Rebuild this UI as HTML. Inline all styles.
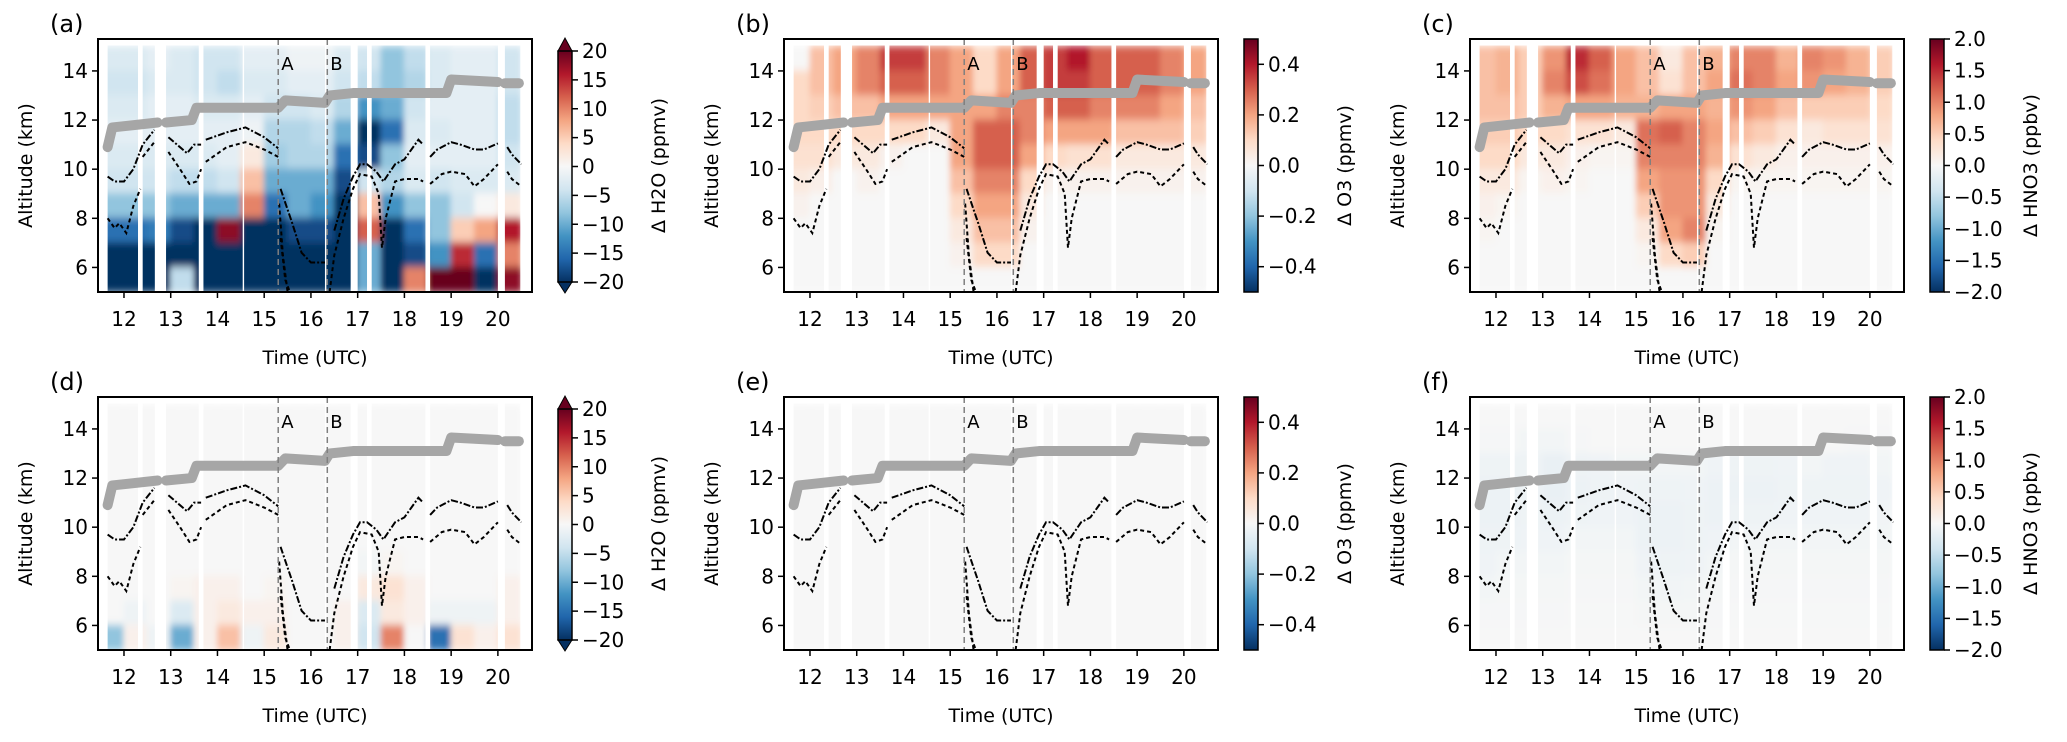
<!DOCTYPE html>
<html><head><meta charset="utf-8"><style>
html,body{margin:0;padding:0;background:#fff;}
svg{display:block;font-family:"DejaVu Sans","Liberation Sans",sans-serif;}
</style></head><body>
<svg id="fig" width="2067" height="742" viewBox="0 0 2067 742" xmlns="http://www.w3.org/2000/svg">
<defs>
<linearGradient id="rdbu" x1="0" y1="1" x2="0" y2="0">
<stop offset="0" stop-color="#053061"/><stop offset="0.1" stop-color="#2166ac"/><stop offset="0.2" stop-color="#4393c3"/><stop offset="0.3" stop-color="#92c5de"/><stop offset="0.4" stop-color="#d1e5f0"/><stop offset="0.5" stop-color="#f7f7f7"/><stop offset="0.6" stop-color="#fddbc7"/><stop offset="0.7" stop-color="#f4a582"/><stop offset="0.8" stop-color="#d6604d"/><stop offset="0.9" stop-color="#b2182b"/><stop offset="1" stop-color="#67001f"/>
</linearGradient>
<filter id="soft" x="0" y="0" width="1" height="1"><feGaussianBlur stdDeviation="3 4" edgeMode="duplicate"/></filter>
</defs>
</svg>
<script>
// ---- data ----
const timeBins = [11.5,12,12.5,13,13.5,14,14.5,15,15.5,16,16.5,17,17.5,18,18.5,19,19.5,20]; // bin starts, 0.5 h wide
const altBins = [14,13,12,11,10,9,8,7,6,5]; // bin bottoms, 1 km tall
const gaps = [[12.3,12.4],[12.66,12.9],[13.6,13.7],[14.54,14.57],[16.3,16.33],[16.85,17.0],[17.2,17.3],[18.45,18.55],[20.0,20.15]];
const dataStart = 11.65, dataEnd = 20.48, dataTop = 15.1;
const h2oA = [
[-3,-3,-2,-3,-4,-4,-2,-2,-1,-1,-3,-4,-8,-5,-3,-2,-2,-4],
[-4,-4,-3,-3,-4,-5,-3,-3,-2,-2,-4,-5,-8,-6,-3,-2,-2,-4],
[-3,-3,-2,-2,-3,-3,-2,-4,-4,-3,-6,-12,-10,-4,-2,-2,-2,-5],
[-2,-2,-2,-2,-2,-2,-1,-6,-6,-5,-10,-20,-15,-3,-3,-2,-2,-5],
[-3,-3,-3,-3,-3,-2,2,-7,-6,-6,-15,-18,-8,-2,-2,-2,-2,-4],
[-4,-4,-4,-5,-5,-4,6,-10,-10,-10,-18,-4,-6,-3,-4,-3,-3,-3],
[-8,-8,-8,-10,-10,-10,10,-15,-10,-12,-20,6,-12,-8,-8,-4,0,2],
[-15,-15,-14,-18,-20,18,-20,-20,-18,-18,-20,12,-20,-15,-8,5,8,16],
[-20,-20,-20,-20,-20,-20,-20,-20,-20,-20,-20,-10,-20,-18,-12,15,-15,10],
[-20,-20,-20,-5,-20,-20,-20,-20,-20,-20,-20,-10,-20,10,20,20,-20,18]];
const o3B = [
[0,0.15,0.2,0.25,0.35,0.35,0.25,0.2,0.1,0.2,0.3,0.35,0.4,0.3,0.3,0.3,0.25,0.2],
[0.1,0.15,0.2,0.25,0.3,0.3,0.25,0.2,0.1,0.2,0.3,0.35,0.35,0.3,0.3,0.3,0.25,0.2],
[0.1,0.12,0.15,0.15,0.2,0.2,0.2,0.2,0.2,0.25,0.25,0.3,0.3,0.25,0.25,0.25,0.2,0.15],
[0.1,0.1,0.1,0.1,0.1,0.1,0.05,0.2,0.3,0.3,0.25,0.2,0.2,0.2,0.15,0.15,0.15,0.12],
[0.08,0.08,0.05,0.05,0.02,0,0,0.2,0.3,0.3,0.2,0.1,0.08,0.08,0.05,0.05,0.05,0.05],
[0.05,0.03,0,0.02,0,0,0,0.15,0.25,0.25,0.1,0.02,0.02,0.02,0.02,0.02,0.02,0.02],
[0.02,0,0,0,0,0,0,0.1,0.2,0.2,0.05,0,0,0,0,0,0,0],
[0,0,0,0,0,0,0,0.05,0.15,0.15,0.02,0,0,0,0,0,0,0],
[0,0,0,0,0,0,0,0.02,0.1,0.1,0,0,0,0,0,0,0,0],
[0,0,0,0,0,0,0,0,0,0,0,0,0,0,0,0,0,0]];
const hno3C = [
[0.6,0.7,0.5,0.9,1.5,1.2,0.8,0.6,0.2,0.6,0.7,1.0,1.0,0.7,1.0,0.9,0.7,0.5],
[0.6,0.7,0.5,1.0,1.3,1.1,0.8,0.6,0.3,0.6,0.8,1.1,1.0,0.8,0.9,0.8,0.7,0.5],
[0.6,0.6,0.5,0.7,0.8,0.8,0.7,0.7,0.8,0.8,0.7,0.9,0.8,0.6,0.5,0.5,0.5,0.4],
[0.5,0.5,0.4,0.4,0.3,0.3,0.2,1.1,1.2,1.0,0.8,0.6,0.5,0.3,0.2,0.3,0.3,0.3],
[0.4,0.4,0.2,0.2,0.1,0.05,0.05,1.0,1.0,1.0,0.7,0.3,0.2,0.1,0.1,0.1,0.1,0.1],
[0.2,0.2,0.05,0.1,0.05,0,0,0.8,0.9,0.9,0.4,0.05,0.05,0.05,0.05,0.05,0.05,0.05],
[0.1,0.05,0,0,0,0,0,0.5,0.9,0.9,0.2,0,0,0,0,0,0,0],
[0.05,0,0,0,0,0,0,0.2,0.8,1.0,0.05,0,0,0,0,0,0,0],
[0,0,0,0,0,0,0,0.05,0.4,0.5,0,0,0,0,0,0,0,0],
[0,0,0,0,0,0,0,0,0,0,0,0,0,0,0,0,0,0]];
const h2oD = [
[0,0,0,0,0,0,0,0,0,0,0,0,0,0,0,0,0,0],
[0,0,0,0,0,0,0,0,0,0,0,0,0,0,0,0,0,0],
[0,0,0,0,0,0,0,0,0,0,0,0,0,0,0,0,0,0],
[0,0,0,0,0,0,0,0,0,0,0,0,0,0,0,0,0,0],
[0,0,0,0,0,0,0,0,0,0,0,0,0,0,0,0,0,0],
[0,0,0,0,0,0,0,0,0,0,0,0,0,0,0,0,0,0],
[0,0,0,0,0,0,0,0,0,0,0,-0.5,0.5,0,0,0,0,0],
[0,0,0,0.5,1,1,0,0.5,0,0,0,2,3,1,0,0,0,1],
[0,-1,0,-3,1,2,1,1,0,0,1,-3,2,1,-1,-1,-1,1],
[-8,1,-1,-10,1,6,-1,2,0,0,1,-4,10,0,-15,3,1,3]];
const o3E = [
[0,0,0,0,0,0,0,0,0,0,0,0,0,0,0,0,0,0],[0,0,0,0,0,0,0,0,0,0,0,0,0,0,0,0,0,0],
[0,0,0,0,0,0,0,0,0,0,0,0,0,0,0,0,0,0],[0,0,0,0,0,0,0,0,0,0,0,0,0,0,0,0,0,0],
[0,0,0,0,0,0,0,0,0,0,0,0,0,0,0,0,0,0],[0,0,0,0,0,0,0,0,0,0,0,0,0,0,0,0,0,0],
[0,0,0,0,0,0,0,0,0,0,0,0,0,0,0,0,0,0],[0,0,0,0,0,0,0,0,0,0,0,0,0,0,0,0,0,0],
[0,0,0,0,0,0,0,0,0,0,0,0,0,0,0,0,0,0],[0,0,0,0,0,0,0,0,0,0,0,0,0,0,0,0,0,0]];
const hno3F = [
[0,0,0,0,0,0,0,0,0,0,0,0,0,0,0,0,0,0],
[-0.02,-0.02,-0.05,-0.05,-0.02,0,0,0,0,0,0,0,0,0,0,0,-0.02,-0.02],
[-0.1,-0.1,-0.1,-0.15,-0.1,-0.08,-0.05,-0.05,-0.05,-0.05,-0.08,-0.1,-0.1,-0.08,-0.05,-0.08,-0.08,-0.05],
[-0.12,-0.12,-0.1,-0.15,-0.12,-0.1,-0.08,-0.1,-0.1,-0.08,-0.12,-0.12,-0.12,-0.1,-0.1,-0.1,-0.1,-0.08],
[-0.12,-0.12,-0.1,-0.12,-0.1,-0.08,-0.08,-0.12,-0.12,-0.1,-0.12,-0.1,-0.1,-0.08,-0.08,-0.08,-0.08,-0.06],
[-0.1,-0.1,-0.08,-0.08,-0.05,-0.05,-0.05,-0.12,-0.12,-0.1,-0.08,-0.05,-0.05,-0.05,-0.05,-0.05,-0.05,-0.05],
[-0.08,-0.05,-0.05,-0.05,-0.03,-0.03,-0.03,-0.08,-0.1,-0.08,-0.05,-0.03,-0.03,-0.03,-0.03,-0.03,-0.03,-0.03],
[-0.05,-0.03,-0.03,-0.03,-0.02,-0.02,-0.02,-0.05,-0.06,-0.05,-0.03,-0.02,-0.02,-0.02,-0.02,-0.02,-0.02,-0.02],
[-0.02,-0.02,-0.02,-0.02,-0.01,-0.01,-0.01,-0.03,-0.03,-0.03,-0.02,-0.01,-0.01,-0.01,-0.01,-0.01,-0.01,-0.01],
[0,0,0,0,0,0,0,0,0,0,0,0,0,0,0,0,0,0]];
const flightT = [[11.65,11.75,12.0,12.72],[12.9,13.45,13.55,15.3,15.45,16.3,16.4,16.9,17.3,18.9,19.0,20.0],[20.15,20.45]];
const flightZ = [[10.9,11.7,11.75,11.9],[11.9,12.0,12.5,12.5,12.8,12.7,13.0,13.1,13.1,13.1,13.65,13.55],[13.5,13.5]];
const upperT = [[11.65,11.8,12.0,12.2,12.4,12.65],[12.95,13.35,13.5,13.65],[13.75,14.2,14.6,15.0,15.3],[15.35,15.6,15.8,16.0,16.3],[16.5,16.7,16.9,17.05,17.2,17.4,17.55,17.8,18.0,18.3,18.4],[18.55,18.7,19.0,19.2,19.5,19.7,20.0],[20.2,20.3,20.5]];
const upperZ = [[9.7,9.5,9.5,10.0,11.0,11.6],[11.3,10.65,11.0,11.0],[11.2,11.5,11.7,11.3,10.85],[9.2,7.8,6.6,6.2,6.2],[7.5,8.8,9.7,10.2,10.2,9.9,9.5,10.2,10.4,11.2,11.0],[10.5,10.8,11.1,11.0,10.8,10.8,11.05],[10.9,10.6,10.2]];
const lowerT = [[11.65,11.8,11.9,12.05,12.2,12.35],[12.4,12.65],[12.95,13.2,13.4,13.55,13.65],[13.75,14.2,14.6,15.0,15.3],[15.32,15.4,15.5],[15.35,15.45,15.55],[16.4,16.5,16.7,16.9,17.05,17.3,17.45,17.52,17.6,17.8,18.0,18.3,18.4],[18.55,18.8,19.0,19.3,19.5,19.7,20.0],[20.2,20.3,20.5]];
const lowerZ = [[8.0,7.6,7.8,7.4,8.5,9.2],[10.5,11.1],[10.7,10.0,9.4,9.5,10.0],[10.3,10.9,11.1,10.8,10.5],[8.6,6.5,5.0],[7.2,5.5,5.0],[5.0,6.5,8.0,9.2,9.8,9.7,9.0,6.8,8.0,9.5,9.6,9.6,9.5],[9.4,9.8,9.9,9.8,9.3,9.6,10.2],[9.9,9.6,9.3]];
const eventT = [15.3, 16.35];
const eventLabels = ["A","B"];
const xTicks = [12,13,14,15,16,17,18,19,20];
const yTicks = [6,8,10,12,14];
const cbTicksH2O = [20,15,10,5,0,-5,-10,-15,-20];
const cbTicksO3 = [0.4,0.2,0.0,-0.2,-0.4];
const cbTicksHNO3 = [2.0,1.5,1.0,0.5,0.0,-0.5,-1.0,-1.5,-2.0];

const NS="http://www.w3.org/2000/svg";
const svg=document.getElementById('fig');
function mk(tag,attrs,parent){const e=document.createElementNS(NS,tag);for(const k in attrs)e.setAttribute(k,attrs[k]);(parent||svg).appendChild(e);return e;}
const stops=["#053061","#2166ac","#4393c3","#92c5de","#d1e5f0","#f7f7f7","#fddbc7","#f4a582","#d6604d","#b2182b","#67001f"];
function hex(c){return [parseInt(c.substr(1,2),16),parseInt(c.substr(3,2),16),parseInt(c.substr(5,2),16)];}
function cmap(v){v=Math.max(-1,Math.min(1,v));const p=(v+1)/2*10;const i=Math.min(9,Math.floor(p));const f=p-i;const a=hex(stops[i]),b=hex(stops[i+1]);return `rgb(${a.map((x,k)=>Math.round(x+(b[k]-x)*f)).join(',')})`;}
function fmt(v,dec){const s=Math.abs(v).toFixed(dec);return (v<0?"\u2212":"")+s;}

const XMIN=11.444,XMAX=20.73,YMIN=5,YMAX=15.3,W=434,H=253;
const panels=[
 {id:'a',L:98,T:39,data:h2oA,vmax:20,ticks:cbTicksH2O,dec:0,label:'\u0394 H2O (ppmv)',ext:true},
 {id:'b',L:784,T:39,data:o3B,vmax:0.5,ticks:cbTicksO3,dec:1,label:'\u0394 O3 (ppmv)',ext:false},
 {id:'c',L:1470,T:39,data:hno3C,vmax:2,ticks:cbTicksHNO3,dec:1,label:'\u0394 HNO3 (ppbv)',ext:false},
 {id:'d',L:98,T:397,data:h2oD,vmax:20,ticks:cbTicksH2O,dec:0,label:'\u0394 H2O (ppmv)',ext:true},
 {id:'e',L:784,T:397,data:o3E,vmax:0.5,ticks:cbTicksO3,dec:1,label:'\u0394 O3 (ppmv)',ext:false},
 {id:'f',L:1470,T:397,data:hno3F,vmax:2,ticks:cbTicksHNO3,dec:1,label:'\u0394 HNO3 (ppbv)',ext:false}];

panels.forEach(p=>{
 const xs=t=>p.L+(t-XMIN)/(XMAX-XMIN)*W;
 const ys=z=>p.T+H-(z-YMIN)/(YMAX-YMIN)*H;
 const g=mk('g',{});
 
 
 const cid='clip'+p.id;
 const cp=mk('clipPath',{id:cid},g);
 mk('rect',{x:xs(dataStart),y:ys(dataTop),width:xs(dataEnd)-xs(dataStart),height:ys(YMIN)-ys(dataTop)},cp);
 const hm=mk('g',{'clip-path':`url(#${cid})`},g);
 
 
 const inner=mk('g',{filter:'url(#soft)'},hm);
 p.data.forEach((row,ri)=>row.forEach((v,ci)=>{
  const c=mk('rect',{x:xs(timeBins[ci])-0.5,y:ys(altBins[ri]+1)-0.5,width:xs(timeBins[ci]+0.5)-xs(timeBins[ci])+1,height:ys(altBins[ri])-ys(altBins[ri]+1)+1,fill:cmap(v/p.vmax)},inner);
  
  
 }));
 gaps.forEach(gp=>{const r=mk('rect',{x:xs(gp[0]),y:p.T,width:xs(gp[1])-xs(gp[0]),height:H,fill:'#fff'},g);
  
  });
 flightT.forEach((seg,si)=>{const l=mk('polyline',{points:seg.map((t,i)=>xs(t)+','+ys(flightZ[si][i])).join(' '),fill:'none',stroke:'#a6a6a6','stroke-width':10,'stroke-linecap':'round','stroke-linejoin':'round'},g);
  
  });
 upperT.forEach((seg,si)=>{const l=mk('polyline',{points:seg.map((t,i)=>xs(t)+','+ys(upperZ[si][i])).join(' '),fill:'none',stroke:'#000','stroke-width':2,'stroke-dasharray':'7,2,2,2'},g);
  
  });
 lowerT.forEach((seg,si)=>{const l=mk('polyline',{points:seg.map((t,i)=>xs(t)+','+ys(lowerZ[si][i])).join(' '),fill:'none',stroke:'#000','stroke-width':2,'stroke-dasharray':'4,3'},g);
  
  });
 eventT.forEach((t,i)=>{
  const l=mk('line',{x1:xs(t),x2:xs(t),y1:p.T,y2:p.T+H,stroke:'#7f7f7f','stroke-width':1.5,'stroke-dasharray':'6,4'},g);
  
  
  const tx=mk('text',{x:xs(t)+3,y:p.T+31,'font-size':18,fill:'#000'},g);tx.textContent=eventLabels[i];
  
  
 });
 const fr=mk('rect',{x:p.L,y:p.T,width:W,height:H,fill:'none',stroke:'#000','stroke-width':2},g);
 
 
 xTicks.forEach(t=>{mk('line',{x1:xs(t),x2:xs(t),y1:p.T+H,y2:p.T+H+6,stroke:'#000','stroke-width':1.5},g);
  const tx=mk('text',{x:xs(t),y:p.T+H+34,'font-size':20,'text-anchor':'middle'},g);tx.textContent=t;
  
  });
 yTicks.forEach(t=>{mk('line',{x1:p.L-6,x2:p.L,y1:ys(t),y2:ys(t),stroke:'#000','stroke-width':1.5},g);
  const tx=mk('text',{x:p.L-10,y:ys(t)+7,'font-size':20,'text-anchor':'end'},g);tx.textContent=t;
  
  });
 const xl=mk('text',{x:p.L+W/2,y:p.T+H+72,'font-size':19,'text-anchor':'middle'},g);xl.textContent='Time (UTC)';
 
 
 const yl=mk('text',{x:0,y:0,'font-size':19,'text-anchor':'middle',transform:`translate(${p.L-66},${p.T+H/2}) rotate(-90)`},g);yl.textContent='Altitude (km)';
 
 
 const pl=mk('text',{x:p.L-48,y:p.T-7,'font-size':24},g);pl.textContent='('+p.id+')';
 
 
 const cbL=p.L+W+26,cbW=14;
 let cTop=p.T,cBot=p.T+H;
 if(p.ext){cTop=p.T+12;cBot=p.T+H-10;
  const tu=mk('polygon',{points:`${cbL},${cTop} ${cbL+cbW/2},${p.T-1} ${cbL+cbW},${cTop}`,fill:'#67001f',stroke:'#000','stroke-width':1},g);
  
  
  const td=mk('polygon',{points:`${cbL},${cBot} ${cbL+cbW/2},${p.T+H+1} ${cbL+cbW},${cBot}`,fill:'#053061',stroke:'#000','stroke-width':1},g);
  
  }
 const cb=mk('rect',{x:cbL,y:cTop,width:cbW,height:cBot-cTop,fill:'url(#rdbu)',stroke:'#000','stroke-width':1.5},g);
 
 
 const cys=v=>cBot-(v+p.vmax)/(2*p.vmax)*(cBot-cTop);
 p.ticks.forEach(v=>{mk('line',{x1:cbL+cbW,x2:cbL+cbW+6,y1:cys(v),y2:cys(v),stroke:'#000','stroke-width':1.5},g);
  const tx=mk('text',{x:cbL+cbW+10,y:cys(v)+7,'font-size':20},g);tx.textContent=fmt(v,p.dec);
  
  });
 const cl=mk('text',{x:0,y:0,'font-size':19,'text-anchor':'middle',transform:`translate(${cbL+107},${p.T+H/2}) rotate(-90)`},g);cl.textContent=p.label;
 
 
});
</script>
</body></html>
